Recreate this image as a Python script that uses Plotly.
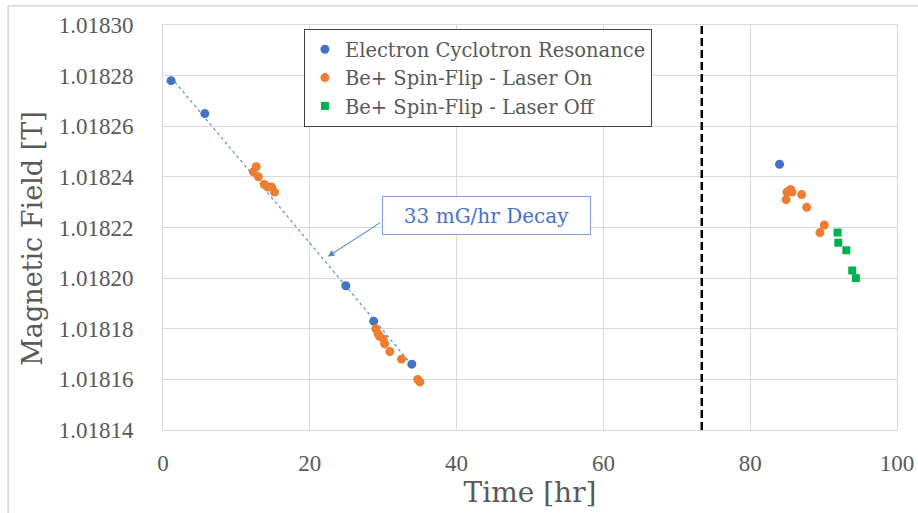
import numpy as np
import plotly.graph_objects as go

# ---------------- data ----------------
ecr_x = [1.1, 5.7, 24.9, 28.7, 33.9, 84.0]
ecr_y = [1.018278, 1.018265, 1.018197, 1.018183, 1.018166, 1.018245]

on_x = [12.7, 12.3, 13.0, 13.8, 14.3, 14.8, 15.2,
        29.0, 29.3, 29.5, 30.0, 30.2, 30.9, 32.5, 34.7, 35.0,
        85.5, 85.0, 85.7, 84.9, 87.0, 87.7, 90.1, 89.5]
on_y = [1.018244, 1.018242, 1.018240, 1.018237, 1.018236, 1.018236, 1.018234,
        1.018180, 1.018178, 1.018177, 1.018176, 1.018174, 1.018171, 1.018168, 1.018160, 1.018159,
        1.018235, 1.018234, 1.018234, 1.018231, 1.018233, 1.018228, 1.018221, 1.018218]

off_x = [91.9, 92.0, 93.1, 93.9, 94.4]
off_y = [1.018218, 1.018214, 1.018211, 1.018203, 1.018200]

divider_x = 73.4
x_ticks = [0, 20, 40, 60, 80, 100]
y_ticks = [1.01814, 1.01816, 1.01818, 1.01820, 1.01822, 1.01824, 1.01826, 1.01828, 1.01830]

# trend line fitted to first-run ECR points
fit_x = np.array(ecr_x[:5])
fit_y = np.array(ecr_y[:5])
slope, icpt = np.polyfit(fit_x, fit_y, 1)
trend_x = np.array([fit_x.min(), fit_x.max()])
trend_y = slope * trend_x + icpt

TICKFONT = "Liberation Serif"
FONT = "DejaVu Serif"
GRAY = "#595959"
BLUE = "#4472C4"
ORANGE = "#ED7D31"
GREEN = "#00B050"

fig = go.Figure()
fig.add_trace(go.Scatter(x=trend_x, y=trend_y, mode="lines", showlegend=False,
                         line=dict(color="#5B8BD6", width=1.2, dash="dot"), hoverinfo="skip"))
fig.add_trace(go.Scatter(x=ecr_x, y=ecr_y, mode="markers", name="Electron Cyclotron Resonance",
                         marker=dict(color=BLUE, size=9, symbol="circle")))
fig.add_trace(go.Scatter(x=on_x, y=on_y, mode="markers", name="Be+ Spin-Flip - Laser On",
                         marker=dict(color=ORANGE, size=9, symbol="circle")))
fig.add_trace(go.Scatter(x=off_x, y=off_y, mode="markers", name="Be+ Spin-Flip - Laser Off",
                         marker=dict(color=GREEN, size=8, symbol="square")))

fig.add_shape(type="line", xref="x", yref="paper", x0=divider_x, x1=divider_x, y0=0, y1=1,
              line=dict(color="black", width=2.5, dash="8px,4px"))
# chart area border
fig.add_shape(type="rect", xref="paper", yref="paper", x0=-0.211, x1=1.05, y0=-0.3, y1=1.047,
              line=dict(color="#BFBFBF", width=1), layer="below")

# callout arrow
fig.add_annotation(x=22.45, y=1.0182085, ax=29.8, ay=1.0182223, xref="x", yref="y",
                   axref="x", ayref="y", text="", showarrow=True, arrowhead=2,
                   arrowsize=1.2, arrowwidth=1.1, arrowcolor="#5B84D0")
# callout box
fig.add_annotation(x=44.1, y=1.0182247, xref="x", yref="y", text="33 mG/hr Decay",
                   showarrow=False, font=dict(family=FONT, size=20, color=BLUE),
                   bgcolor="white", bordercolor="#7F9FD8", borderwidth=1, borderpad=0,
                   width=207, height=37)
# y-axis title (placed like the original, slightly below the plot-area centre)
fig.add_annotation(x=-0.178, y=0.473, xref="paper", yref="paper", text="Magnetic Field [T]",
                   textangle=-90, showarrow=False, xanchor="center", yanchor="middle",
                   font=dict(family=FONT, size=27, color=GRAY))

axis_common = dict(showgrid=True, gridcolor="#D9D9D9", gridwidth=1, zeroline=False,
                   showline=True, linecolor="#D9D9D9", linewidth=1, mirror=True,
                   ticks="outside", tickcolor="rgba(0,0,0,0)", automargin=False,
                   tickfont=dict(family=TICKFONT, size=23, color=GRAY))
fig.update_xaxes(range=[0, 100], tickvals=x_ticks, ticklen=12,
                 title=dict(text="Time [hr]", font=dict(family=FONT, size=28, color=GRAY), standoff=0),
                 **axis_common)
fig.update_yaxes(range=[1.01814, 1.01830], tickvals=y_ticks, tickformat=".5f", ticklen=24,
                 **axis_common)

fig.update_layout(
    width=918, height=513,
    margin=dict(l=163, r=21, t=25, b=83),
    font=dict(family=FONT, color=GRAY),
    plot_bgcolor="white", paper_bgcolor="white",
    legend=dict(x=0.192, y=0.99, xanchor="left", yanchor="top",
                bordercolor="#404040", borderwidth=1, bgcolor="white",
                font=dict(family=FONT, size=19.5, color=GRAY), itemwidth=30),
    showlegend=True,
)

fig.write_html("out.html")
